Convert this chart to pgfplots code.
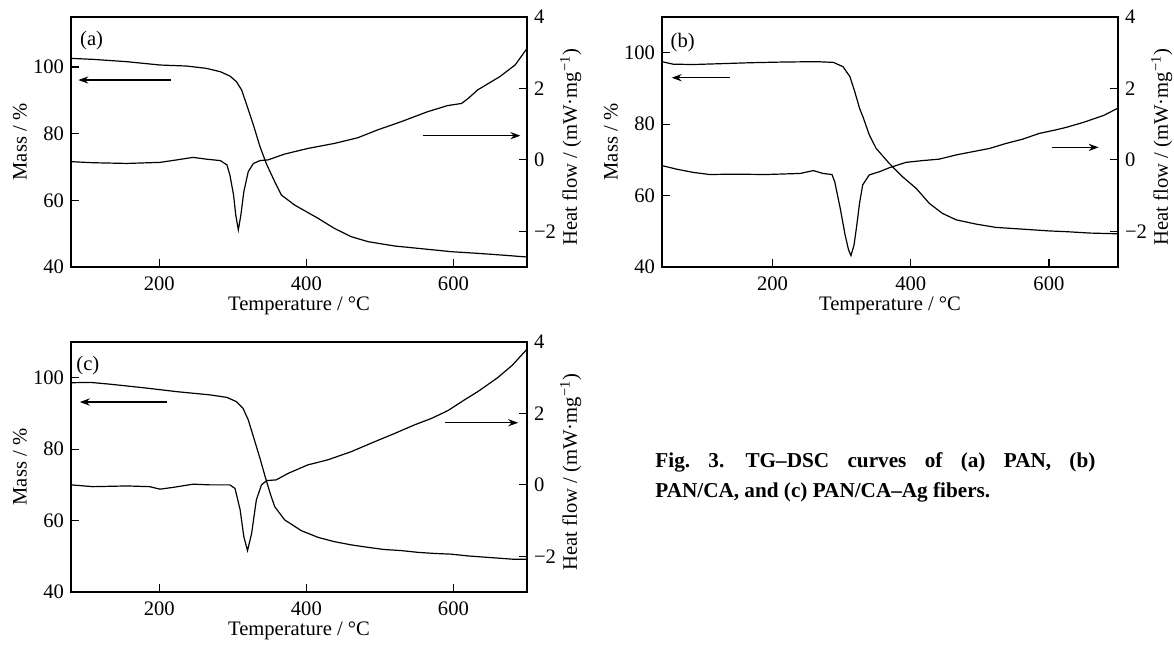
\documentclass[border=0pt]{standalone}
\usepackage{fontspec}
\setmainfont{Liberation Serif}
\usepackage{pgfplots}
\pgfplotsset{compat=1.18}
\usetikzlibrary{arrows.meta}

\newcommand\lbl{\fontsize{10.3}{12}\selectfont}

\tikzset{
  curve/.style={black, line width=0.6pt},
  arr/.style={-{Stealth[length=5pt,width=3.6pt]}, line width=0.6pt},
}

% shared look of the TG-DSC panels
\pgfplotsset{
  tg/.style={
    scale only axis, width=228pt, height=125pt,
    axis line style={line width=0.6pt},
    every tick/.style={line width=0.6pt, black},
    major tick length=3.8pt, tick align=inside,
    tick label style={font=\lbl}, label style={font=\lbl},
    xticklabel style={yshift=-1.5pt},
    no markers, clip=false,
  },
  mass/.style={tg,
    xtick pos=left, ytick pos=left,
    xtick={200,400,600}, xticklabels={200,400,600},
    ytick={40,60,80,100}, yticklabels={40,60,80,100},
    xlabel={Temperature / °C},
    xlabel style={at={(axis description cs:0.5,-0.154)}, anchor=center},
    ylabel={Mass / \%},
    ylabel style={at={(axis description cs:-0.112,0.5)}, anchor=center},
  },
  heat/.style={tg,
    xtick=\empty, ytick pos=right, yticklabel pos=right,
    ymin=-3, ymax=4,
    ytick={-2,0,2,4}, yticklabels={−2,0,2,4},
    ylabel={Heat flow / (mW·mg\textsuperscript{−1})},
    ylabel style={at={(axis description cs:1.096,0.48)}, anchor=center},
  },
}

\begin{document}
\begin{tikzpicture}[x=1pt,y=1pt]
\useasboundingbox (0,0) rectangle (587,-322.5);

% ---------- (a) PAN ----------
\begin{axis}[mass, at={(35.5pt,-133.5pt)}, anchor=south west,
  xmin=80, xmax=700, ymin=40, ymax=115]
\addplot[curve] coordinates {
(80,102.6)(110,102.3)(156,101.6)(201,100.6)(237,100.3)(264,99.6)(283,98.6)
(296,97.3)(305,95.6)(312,93.1)(319,88.6)(328,82.6)(337,76.1)(346,70.8)
(357,65.6)(366,61.6)(384,58.6)(416,54.6)(438,51.6)(461,49.1)(484,47.6)
(520,46.3)(552,45.6)(597,44.6)(633,44.1)(665,43.6)(700,43.0)};
\draw[arr] (axis cs:216,96.1) -- (axis cs:90,96.1);
\draw[arr] (axis cs:558,79.4) -- (axis cs:691,79.4);
\node[font=\lbl] at (axis cs:108,108) {(a)};
\end{axis}
\begin{axis}[heat, at={(35.5pt,-133.5pt)}, anchor=south west,
  xmin=80, xmax=700]
\addplot[curve] coordinates {
(80,-0.05)(110,-0.08)(156,-0.1)(201,-0.07)(224,0.0)(246,0.07)(264,0.02)
(283,-0.02)(292,-0.14)(296,-0.42)(301,-0.98)(304,-1.54)(307.5,-1.96)
(311,-1.54)(315,-0.89)(321,-0.33)(328,-0.1)(337,-0.02)(348,0.0)(370,0.16)
(402,0.32)(438,0.46)(470,0.62)(497,0.84)(529,1.07)(565,1.35)(592,1.52)
(611,1.58)(620,1.72)(633,1.96)(663,2.33)(684,2.66)(700,3.12)};
\end{axis}

% ---------- (b) PAN/CA ----------
\begin{axis}[mass, at={(331pt,-133.5pt)}, anchor=south west,
  xmin=40, xmax=700, ymin=40, ymax=110]
\addplot[curve] coordinates {
(40,97.5)(56,96.8)(85,96.7)(119,96.9)(167,97.2)(216,97.4)(264,97.5)
(288,97.3)(302,96.1)(312,93.3)(319,89.1)(326,84.4)(331,82.0)(340,77)
(350,73.2)(369,69)(388,65.3)(408,62)(427,57.8)(446,55)(466,53.2)(495,52)
(523,51.1)(562,50.6)(601,50.1)(625,49.9)(660,49.5)(700,49.3)};
\draw[arr] (axis cs:138,93) -- (axis cs:54,93);
\draw[arr] (axis cs:605,73.5) -- (axis cs:672,73.5);
\node[font=\lbl] at (axis cs:70,102.8) {(b)};
\end{axis}
\begin{axis}[heat, at={(331pt,-133.5pt)}, anchor=south west,
  xmin=40, xmax=700]
\addplot[curve] coordinates {
(40,-0.16)(61,-0.26)(85,-0.35)(109,-0.41)(143,-0.4)(191,-0.41)(240,-0.38)
(259,-0.3)(273,-0.38)(286,-0.41)(290,-0.61)(298,-1.36)(305,-2.1)(310,-2.52)
(313.5,-2.68)(318,-2.38)(322,-1.82)(326,-1.2)(330.5,-0.7)(340,-0.42)
(355,-0.33)(369,-0.22)(393,-0.07)(417,-0.02)(441,0.02)(466,0.14)(490,0.23)
(514,0.32)(538,0.46)(562,0.58)(586,0.74)(610,0.84)(625,0.91)(650,1.05)
(680,1.25)(700,1.45)};
\end{axis}

% ---------- (c) PAN/CA-Ag ----------
\begin{axis}[mass, at={(35.5pt,-296pt)}, anchor=south west,
  xmin=80, xmax=700, ymin=40, ymax=110]
\addplot[curve] coordinates {
(80,98.6)(106,98.7)(133,98.2)(178.5,97.2)(224,96.1)(269,95.2)(292,94.5)
(305,93.3)(314,91.4)(321,88.2)(328,83.5)(337,77.4)(344,72.3)(351,67.5)
(357,63.9)(370.5,60.2)(393,57.2)(416,55.3)(438,54.1)(461,53.2)(484,52.5)
(506,51.9)(529,51.6)(552,51.1)(574,50.8)(597,50.6)(620,50.1)(633,49.9)
(660,49.5)(680,49.2)(700,49.2)};
\draw[arr] (axis cs:210,93.2) -- (axis cs:92,93.2);
\draw[arr] (axis cs:588,87.4) -- (axis cs:688,87.4);
\node[font=\lbl] at (axis cs:103,103.3) {(c)};
\end{axis}
\begin{axis}[heat, at={(35.5pt,-296pt)}, anchor=south west,
  xmin=80, xmax=700]
\addplot[curve] coordinates {
(80,0.0)(110,-0.05)(156,-0.03)(187,-0.05)(201,-0.12)(219,-0.07)(246,0.02)
(269,0.0)(296,0.0)(303,-0.1)(310,-0.7)(315,-1.45)(320,-1.84)(325.6,-1.36)
(332,-0.42)(339,0.0)(346,0.12)(359,0.14)(375,0.32)(402,0.56)(429,0.7)
(461,0.93)(493,1.21)(520,1.44)(547,1.68)(570,1.86)(592.5,2.08)(615,2.38)
(633,2.61)(660,3.0)(680,3.35)(700,3.8)};
\end{axis}

% caption
\node[anchor=north west, inner sep=0pt, text width=220pt, align=justify,
  font=\fontsize{10.6}{15}\selectfont\bfseries] at (327.5pt,-226pt)
  {Fig.~3.\hspace{1em}TG–DSC curves of (a) PAN, (b)\linebreak PAN/CA, and (c) PAN/CA–Ag fibers.};
\end{tikzpicture}
\end{document}
